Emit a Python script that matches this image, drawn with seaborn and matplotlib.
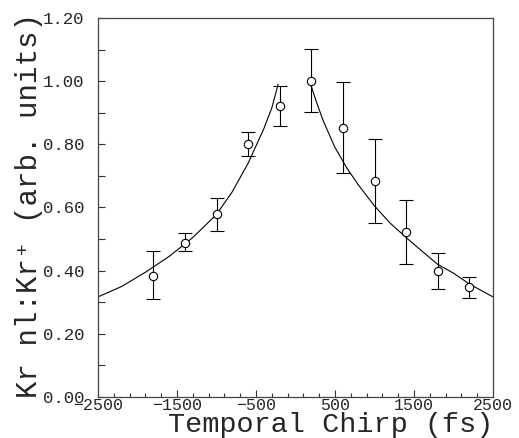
import numpy as np
import pandas as pd
import seaborn as sns
import matplotlib
matplotlib.use("Agg")
import matplotlib.pyplot as plt
from matplotlib.ticker import FixedLocator, MultipleLocator, FormatStrFormatter

# measured points with error bars
chirp = [-1800, -1400, -1000, -600, -200, 200, 600, 1000, 1400, 1800, 2200]
ratio = [0.383, 0.488, 0.580, 0.802, 0.922, 1.002, 0.853, 0.683, 0.522, 0.400, 0.347]
err_low = [0.072, 0.027, 0.053, 0.039, 0.064, 0.100, 0.144, 0.133, 0.101, 0.059, 0.032]
err_high = [0.078, 0.030, 0.051, 0.038, 0.064, 0.099, 0.145, 0.135, 0.101, 0.057, 0.034]

# fitted curve (two branches)
fit_left_x = [-2500, -2200, -1900, -1600, -1300, -1000, -800, -600, -400, -300, -220]
fit_left_y = [0.317, 0.350, 0.395, 0.445, 0.505, 0.578, 0.650, 0.740, 0.850, 0.915, 0.990]
fit_right_x = [180, 250, 350, 500, 650, 800, 1000, 1200, 1400, 1600, 1800, 2000, 2200, 2500]
fit_right_y = [1.000, 0.945, 0.875, 0.790, 0.725, 0.670, 0.605, 0.550, 0.505, 0.462, 0.420, 0.392, 0.358, 0.317]

x_ticks = [-2500, -1500, -500, 500, 1500, 2500]
y_ticks = [0.0, 0.2, 0.4, 0.6, 0.8, 1.0, 1.2]

sns.set_theme(style="white")
plt.rcParams["font.family"] = ["Liberation Mono", "DejaVu Sans Mono"]
plt.rcParams["axes.unicode_minus"] = True

fig = plt.figure(figsize=(5.19, 4.38), dpi=100)
ax = fig.add_axes([98 / 519, 41 / 438, 395 / 519, 379 / 438])

fit = pd.concat([
    pd.DataFrame({"chirp": fit_left_x, "ratio": fit_left_y, "branch": "left"}),
    pd.DataFrame({"chirp": fit_right_x, "ratio": fit_right_y, "branch": "right"}),
])
sns.lineplot(data=fit, x="chirp", y="ratio", units="branch", estimator=None,
             sort=False, color="black", linewidth=0.8, ax=ax)

ax.errorbar(chirp, ratio, yerr=[err_low, err_high], fmt="o", mfc="white",
            mec="black", ms=6, mew=0.8, ecolor="black", elinewidth=0.8,
            capsize=5, capthick=0.8, zorder=3)

ax.set_xlim(-2500, 2500)
ax.set_ylim(0, 1.2)
ax.xaxis.set_major_locator(FixedLocator(x_ticks))
ax.xaxis.set_minor_locator(FixedLocator(np.arange(-2500, 2501, 200)))
ax.yaxis.set_major_locator(FixedLocator(y_ticks))
ax.yaxis.set_minor_locator(MultipleLocator(0.1))
ax.yaxis.set_major_formatter(FormatStrFormatter("%.2f"))

ax.tick_params(which="both", direction="in", color="#333333", width=0.8,
               top=False, right=False, bottom=True, left=True)
ax.tick_params(axis="x", which="major", length=5, pad=1, labelsize=12)
ax.tick_params(axis="x", which="minor", length=3)
ax.tick_params(axis="y", which="both", length=5, pad=10, labelsize=12.5)

for side in ax.spines.values():
    side.set_color("#444444")
    side.set_linewidth(0.9)

ax.set_xlabel("Temporal Chirp (fs)", fontsize=20.5, va="baseline")
ax.xaxis.set_label_coords(0.59, -0.093)
ax.set_ylabel("Kr nl:Kr\u207a (arb. units)", fontsize=21)
ax.yaxis.set_label_coords(-0.139, 0.505)

fig.savefig("out.png", dpi=100)
